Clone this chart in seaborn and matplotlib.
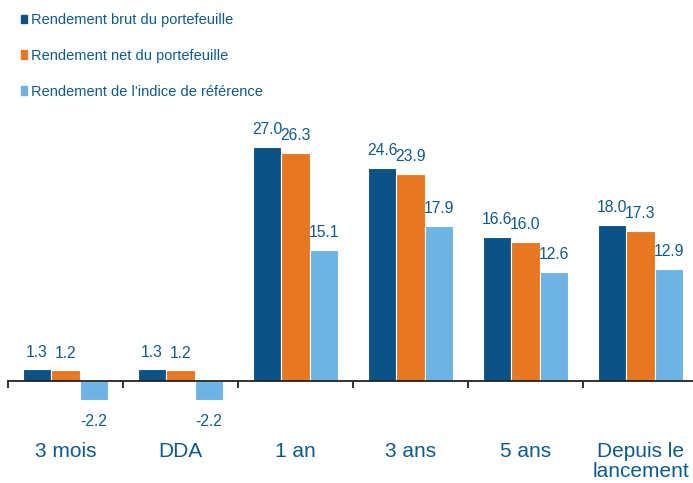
import pandas as pd
import matplotlib
matplotlib.use("Agg")
import matplotlib.pyplot as plt
import matplotlib.patches as mpatches
import seaborn as sns

# ─────────────────────────────────────────────
# DATA
# ─────────────────────────────────────────────
periods = ["3 mois", "DDA", "1 an", "3 ans", "5 ans", "Depuis le\nlancement"]
series = [
    "Rendement brut du portefeuille",
    "Rendement net du portefeuille",
    "Rendement de l'indice de référence",
]
brut = [1.3, 1.3, 27.0, 24.6, 16.6, 18.0]
net = [1.2, 1.2, 26.3, 23.9, 16.0, 17.3]
indice = [-2.2, -2.2, 15.1, 17.9, 12.6, 12.9]

colors = ["#0B5285", "#E87722", "#6DB3E3"]
text_color = "#0E5A8C"

df = pd.DataFrame({
    "period": periods * 3,
    "serie": [series[0]] * 6 + [series[1]] * 6 + [series[2]] * 6,
    "value": brut + net + indice,
})

# ─────────────────────────────────────────────
# PLOT
# ─────────────────────────────────────────────
sns.set_theme(style="white")
plt.rcParams["font.family"] = ["Liberation Sans", "DejaVu Sans"]

fig = plt.figure(figsize=(6.93, 4.83), dpi=100)
ax = fig.add_axes([8 / 693, (483 - 424) / 483, 690 / 693, 303 / 483])

sns.barplot(data=df, x="period", y="value", hue="serie", order=periods,
            hue_order=series, palette=colors, width=0.74, saturation=1,
            edgecolor="white", linewidth=0.8, legend=False, ax=ax)

ax.set_ylim(-5, 30)
ax.set_xlim(-0.5, len(periods) - 0.5)

# value labels
for cont in ax.containers:
    for bar in cont:
        h = bar.get_height()
        x = bar.get_x() + bar.get_width() / 2
        if h >= 0:
            ax.annotate(f"{h:.1f}", (x, h), xytext=(0, 7), textcoords="offset points",
                        ha="center", va="bottom", fontsize=11.3, color=text_color)
        else:
            ax.annotate(f"{h:.1f}", (x, h), xytext=(0, -10), textcoords="offset points",
                        ha="center", va="top", fontsize=11.3, color=text_color)

# axis styling
for s in ["top", "right", "left"]:
    ax.spines[s].set_visible(False)
ax.spines["bottom"].set_position(("data", 0))
ax.spines["bottom"].set_color("#222222")
ax.spines["bottom"].set_linewidth(1.3)
ax.set_yticks([])
ax.set_xlabel("")
ax.set_ylabel("")

bounds = [i - 0.5 for i in range(len(periods) + 1)]
ax.set_xticks(bounds)
ax.set_xticklabels([])
ax.tick_params(axis="x", which="major", direction="out", length=5, width=1.3,
               color="#222222", bottom=True)
ax.set_xticks(range(len(periods)), minor=True)
ax.set_xticklabels(periods, minor=True, fontsize=15, color=text_color, linespacing=1.05)
ax.tick_params(axis="x", which="minor", length=0, pad=44)

# legend
handles = [mpatches.Patch(color=c, label=l) for c, l in zip(colors, series)]
leg = fig.legend(handles=handles, loc="upper left", bbox_to_anchor=(15 / 693, 1 - 7 / 483),
                 frameon=False, fontsize=10.5, handlelength=0.45, handleheight=0.5,
                 handletextpad=0.25, labelspacing=1.5, borderaxespad=0)
for t in leg.get_texts():
    t.set_color(text_color)

fig.savefig("out.png", dpi=100)
